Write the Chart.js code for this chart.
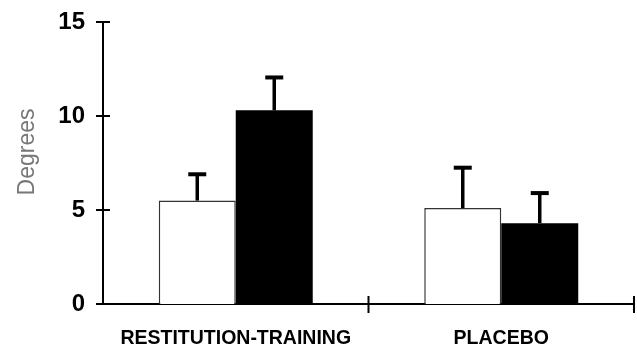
<!DOCTYPE html>
<html>
<head>
<meta charset="utf-8">
<script src="https://cdn.jsdelivr.net/npm/chart.js@4.4.1/dist/chart.umd.min.js"></script>
<style>
  html, body { margin: 0; padding: 0; background: #fff; }
  #wrap { width: 637px; height: 351px; }
</style>
</head>
<body>
<div id="wrap"><canvas id="c" width="637" height="351"></canvas></div>
<script>
const categories = ["RESTITUTION-TRAINING", "PLACEBO"];
const whiteValues = [5.5, 5.1];
const whiteErrors = [1.4, 2.15];
const blackValues = [10.3, 4.3];
const blackErrors = [1.75, 1.6];
const yTicks = [0, 5, 10, 15];
const yTitle = 'Degrees';

const sans = '"Liberation Sans", Arial, sans-serif';

const errorBars = {
  id: 'errorBars',
  afterDatasetsDraw(chart) {
    const ctx = chart.ctx;
    const y = chart.scales.y;
    chart.data.datasets.forEach((ds, i) => {
      const meta = chart.getDatasetMeta(i);
      meta.data.forEach((bar, j) => {
        const top = y.getPixelForValue(ds.data[j] + ds.errors[j]);
        const base = y.getPixelForValue(ds.data[j]);
        ctx.save();
        ctx.strokeStyle = '#000';
        ctx.lineWidth = 3.5;
        ctx.beginPath();
        ctx.moveTo(bar.x, base);
        ctx.lineTo(bar.x, top);
        ctx.stroke();
        ctx.lineWidth = 4;
        ctx.beginPath();
        ctx.moveTo(bar.x - 9, top);
        ctx.lineTo(bar.x + 9, top);
        ctx.stroke();
        ctx.restore();
      });
    });
  }
};

const axisTicks = {
  id: 'axisTicks',
  afterDraw(chart) {
    const ctx = chart.ctx;
    const x = chart.scales.x, y = chart.scales.y;
    const area = chart.chartArea;
    ctx.save();
    ctx.strokeStyle = '#000';
    ctx.lineWidth = 2;
    y.ticks.forEach(t => {
      const py = y.getPixelForValue(t.value);
      ctx.beginPath();
      ctx.moveTo(area.left - 7, py);
      ctx.lineTo(area.left + 7, py);
      ctx.stroke();
    });
    for (let i = 1; i <= categories.length; i++) {
      const px = x.getPixelForValue(i - 0.5);
      ctx.beginPath();
      ctx.moveTo(px, area.bottom - 8);
      ctx.lineTo(px, area.bottom + 9);
      ctx.stroke();
    }
    // y axis title
    ctx.translate(28, 152);
    ctx.rotate(-Math.PI / 2);
    ctx.fillStyle = '#777';
    ctx.font = '23px ' + sans;
    ctx.textAlign = 'center';
    ctx.textBaseline = 'middle';
    ctx.fillText(yTitle, 0, 0);
    ctx.restore();
  }
};

new Chart(document.getElementById('c'), {
  type: 'bar',
  data: {
    labels: categories,
    datasets: [
      { data: whiteValues, errors: whiteErrors, backgroundColor: '#fff', borderColor: '#333', borderWidth: 1.5, borderSkipped: 'bottom' },
      { data: blackValues, errors: blackErrors, backgroundColor: '#000', borderColor: '#000', borderWidth: 0 }
    ]
  },
  options: {
    responsive: false,
    animation: false,
    events: [],
    categoryPercentage: 0.58,
    barPercentage: 1.0,
    layout: { padding: { left: 0, right: 3, top: 22, bottom: 0 } },
    plugins: { legend: { display: false }, tooltip: { enabled: false } },
    scales: {
      x: {
        grid: { display: false, drawTicks: false },
        border: { display: true, color: '#000', width: 2 },
        ticks: { color: '#000', padding: 23, font: { family: sans, weight: 'bold', size: 19.5 } },
        afterFit(s) { s.height = 47; s.paddingLeft = 0; s.paddingRight = 0; }
      },
      y: {
        min: 0, max: 15,
        afterBuildTicks(s) { s.ticks = yTicks.map(v => ({ value: v })); },
        grid: { display: false, drawTicks: false },
        border: { display: true, color: '#000', width: 2 },
        ticks: { color: '#000', padding: 18, font: { family: sans, weight: 'bold', size: 24 } },
        afterFit(s) { s.width = 103; s.paddingTop = 0; s.paddingBottom = 0; }
      }
    }
  },
  plugins: [errorBars, axisTicks]
});
</script>
</body>
</html>
